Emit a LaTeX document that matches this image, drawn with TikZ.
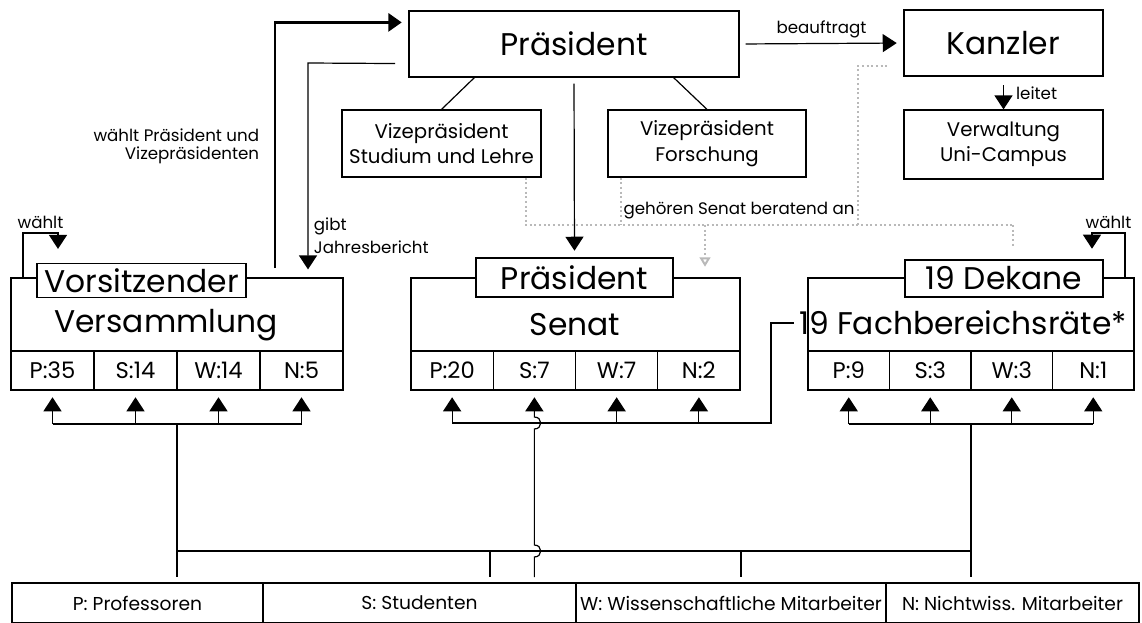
\documentclass[tikz,border=0pt]{standalone}
\usepackage{fontspec}
\setmainfont{Poppins}
\usetikzlibrary{arrows.meta,positioning}
\newlength\px
\setlength\px{0.75pt}

\begin{document}
\begin{tikzpicture}[
		x=0.75pt, y=-0.75pt,
		line width=0.9pt,
		box/.style={draw, rectangle, inner sep=0pt, align=center},
		big/.style={font=\fontsize{23.5}{26}\selectfont},
		mid/.style={font=\fontsize{14.8}{19}\selectfont},
		cell/.style={box, minimum height=39\px, font=\fontsize{17}{19}\selectfont},
		bar/.style={box, minimum height=40\px, font=\fontsize{14}{16}\selectfont},
		lbl/.style={font=\fontsize{12.5}{13.5}\selectfont, inner sep=1pt},
		tip/.style={-{Triangle[length=10.5pt,width=13.5pt]}},
		advice/.style={gray!55, dotted, line width=1.5pt}
	]
	\clip (0,0) rectangle (1142,622);

	% top row
	\node[box, big, minimum width=330\px, minimum height=66\px] (praes) at (574,44) {Präsident};
	\node[box, big, minimum width=199\px, minimum height=66\px] (kanzler) at (1003.5,43) {Kanzler};
	\node[box, mid, minimum width=199\px, minimum height=69\px] (verw) at (1003.5,144.5) {Verwaltung\\Uni-Campus};
	\node[box, mid, minimum width=199\px, minimum height=67\px] (vpstud) at (441.5,143.5) {Vizepräsident\\Studium und Lehre};
	\node[box, mid, minimum width=198\px, minimum height=67\px] (vpfor) at (707,143.5) {Vizepräsident\\Forschung};

	% Versammlung
	\node[box, minimum width=332\px, minimum height=73\px] (vers) at (177,314.5) {};
	\node[big] (versT) at (166,325) {Versammlung};
	\node[box, big, fill=white, minimum width=209\px, minimum height=34\px] (vors) at (141.5,280.5) {Vorsitzender};
	\foreach \t [count=\i] in {P:35,S:14,W:14,N:5}
		\node[cell, minimum width=83\px] (v\i) at ({11+83*\i-41.5},370.5) {\t};

	% Senat
	\node[box, minimum width=329\px, minimum height=73\px] (senat) at (575.5,314.5) {};
	\node[big] (senT) at (575,325) {Senat};
	\node[box, big, fill=white, minimum width=197\px, minimum height=39\px] (senP) at (574.5,277.5) {Präsident};
	\foreach \t [count=\i] in {P:20,S:7,W:7,N:2}
		\node[cell, minimum width=82.25\px] (s\i) at ({411+82.25*\i-41.125},370.5) {\t};

	% Fachbereichsraete
	\node[box, minimum width=326\px, minimum height=73\px] (fbr) at (971,314.5) {};
	\node[big] (fbrT) at (963,323) {19 Fachbereichsräte*};
	\node[box, big, fill=white, minimum width=198\px, minimum height=37\px] (dek) at (1004,278.5) {19 Dekane};
	\foreach \t [count=\i] in {P:9,S:3,W:3,N:1}
		\node[cell, minimum width=81.5\px] (f\i) at ({808+81.5*\i-40.75},370.5) {\t};

	% groups
	\node[bar, minimum width=251\px] (bP) at (137.5,603) {P: Professoren};
	\node[bar, minimum width=313\px] (bS) at (419.5,603) {S: Studenten};
	\node[bar, minimum width=310\px] (bW) at (731,603) {W: Wissenschaftliche Mitarbeiter};
	\node[bar, minimum width=253\px] (bN) at (1012.5,603) {N: Nichtwiss. Mitarbeiter};

	% coordinates
	\coordinate (wBot) at (275,268);
	\coordinate (pTop) at ([yshift=-9pt]praes.north west);
	\coordinate (pLow) at ([yshift=10.5pt]praes.south west);
	\coordinate (gibt) at (308,63);
	\coordinate (wL1) at (23,233);
	\coordinate (wL2) at (58,233);
	\coordinate (wR1) at (1125,233);
	\coordinate (wR2) at (1092,233);
	\coordinate (vfan) at (177,424);
	\coordinate (ffan) at (971,424);
	\coordinate (sbend) at (771,423);
	\coordinate (low) at (177,551);
	\coordinate (jS) at (490,551);
	\coordinate (jW) at (741,551);
	\coordinate (cr1) at (s2.south |- low);
	\coordinate (cr2) at (s2.south |- sbend);
	\coordinate (a1) at ([xshift=-12pt]vpstud.south east);
	\coordinate (a2) at ([xshift=10.5pt]vpfor.south west);
	\coordinate (adv) at (705,225);
	\coordinate (a3) at (858,225);
	\coordinate (a4) at (1013,225);
	\coordinate (kIn) at ([yshift=8.25pt]kanzler.south west);

	% Praesident
	\draw ([xshift=49.5pt]praes.south west) -- (vpstud.north);
	\draw ([xshift=-49.5pt]praes.south east) -- (vpfor.north);
	\draw[tip, shorten <=4.5pt, shorten >=5pt] (praes.south) -- (senP.north);
	\draw[tip, shorten <=4.5pt, shorten >=5pt] (praes.east) -- node[lbl, above=3pt] {beauftragt} (kanzler.west);
	\draw[tip, shorten <=6.5pt] (kanzler.south) -- node[lbl, right=8pt] {leitet} (verw.north);

	% Versammlung
	\draw[line width=2pt, -{Triangle[length=10pt,width=13.5pt]}, shorten >=5pt] (wBot) -- (wBot |- pTop) -- (pTop);
	\node[lbl, align=right, anchor=east] (wahlT) at (261,146) {wählt Präsident und\\Vizepräsidenten};
	\draw[tip, shorten <=10pt, shorten >=6pt] (pLow) -- (gibt) -- (gibt |- vers.north);
	\node[lbl, align=left, anchor=west] (gibtT) at (312,236) {gibt\\[4pt]Jahresbericht};
	\draw[tip, shorten >=10.5pt] (wL1 |- vers.north) -- (wL1) -- node[lbl, above=2pt] {wählt} (wL2) -- (wL2 |- vors.north);
	\draw[tip, shorten >=8pt] (wR1 |- fbr.north) -- (wR1) -- node[lbl, above=2pt] {wählt} (wR2) -- (wR2 |- dek.north);

	% beratend
	\draw[advice] (a1) -- (a1 |- adv) -- (a4 |- adv);
	\draw[advice] (a2) -- (a2 |- adv);
	\draw[advice, shorten >=9pt] (a4 |- adv) -- (a4 |- dek.north);
	\draw[advice, shorten >=12pt] (a3 |- adv) -- (a3 |- kIn) -- (kIn);
	\draw[advice, -{Triangle[open,length=7pt,width=8pt]}, shorten >=8pt] (adv) -- (adv |- senat.north);
	\node[lbl, anchor=south] (advT) at (739,221) {gehören Senat beratend an};

	% fans
	\draw (v1.south |- vfan) -- (v4.south |- vfan);
	\draw (s1.south |- sbend) -- (sbend) -- (sbend |- fbrT.west) -- (fbrT.west);
	\draw (f1.south |- ffan) -- (f4.south |- ffan);
	\foreach \i in {1,...,4} {
		\draw[tip] (v\i.south |- vfan) -- ([yshift=-5pt]v\i.south);
		\draw[tip] (f\i.south |- ffan) -- ([yshift=-5pt]f\i.south);
	}
	\foreach \i in {1,3,4}
		\draw[tip] (s\i.south |- sbend) -- ([yshift=-5pt]s\i.south);
	\draw[tip, shorten <=4pt] (s2.south |- bS.north) -- ([yshift=-4.5pt]cr1)
		to[out=0, in=0, looseness=1.8] ([yshift=4.5pt]cr1) -- ([yshift=-4.5pt]cr2)
		to[out=0, in=0, looseness=1.8] ([yshift=4.5pt]cr2) -- ([yshift=-5pt]s2.south);

	% to groups
	\draw[shorten >=4pt] (vfan) -- (vfan |- bP.north);
	\draw[shorten >=4pt] (ffan) -- (ffan |- bN.north);
	\draw (vfan |- low) -- (ffan |- low);
	\draw[shorten >=4pt] (jS) -- (jS |- bS.north);
	\draw[shorten >=4pt] (jW) -- (jW |- bW.north);
\end{tikzpicture}
\end{document}
